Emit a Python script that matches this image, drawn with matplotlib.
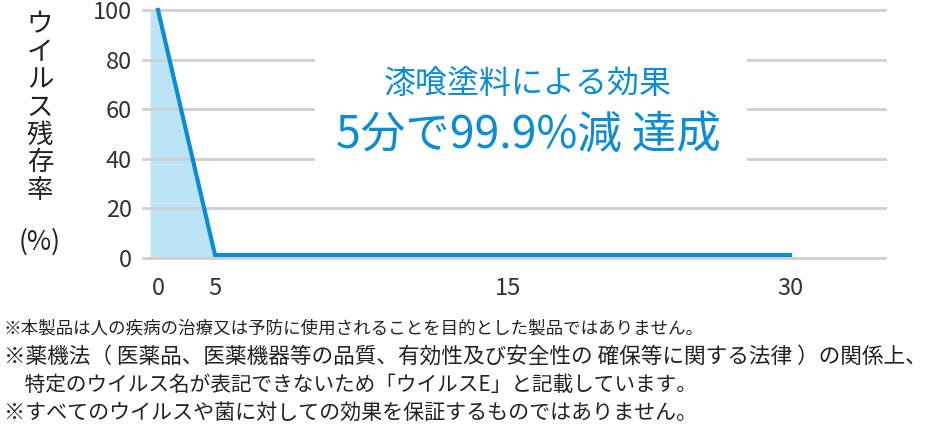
import matplotlib.pyplot as plt
from matplotlib.patches import Rectangle
import numpy as np

plt.rcParams['font.family'] = ['Noto Sans CJK JP', 'DejaVu Sans']

# data
minutes = [0, 5, 15, 30]
survival = [100, 1.2, 1.2, 1.2]
fill_minutes = [-0.7, 0, 5]
fill_survival = [100, 100, 1.2]
yticks = [0, 20, 40, 60, 80, 100]
ylabel_chars = ["ウ", "イ", "ル", "ス", "残", "存", "率"]
title1 = "漆喰塗料による効果"
title2 = "5分で99.9%減 達成"
notes = [
    "※本製品は人の疾病の治療又は予防に使用されることを目的とした製品ではありません。",
    "※薬機法（ 医薬品、医薬機器等の品質、有効性及び安全性の 確保等に関する法律 ）の関係上、",
    "　特定のウイルス名が表記できないため「ウイルスE」と記載しています。",
    "※すべてのウイルスや菌に対しての効果を保証するものではありません。",
]
# right edge of each note line in the reference (pixels)
note_right = [705, 930, 700, 700]

blue = "#0b8dd5"
fill_blue = "#bde3f7"
grid_gray = "#cfcfcf"

# uneven time axis (the original spaces the ticks by hand)
knot_t = np.array([-10, 0, 5, 15, 30, 60])
knot_p = np.array([-114, 0, 57, 350, 632, 1196])


def fwd(x):
    return np.interp(x, knot_t, knot_p)


def inv(p):
    return np.interp(p, knot_p, knot_t)


fig = plt.figure(figsize=(9.39, 4.37), dpi=100)
ax = fig.add_axes([143 / 939, 179 / 437, 742 / 939, 248 / 437])
ax.set_xscale('function', functions=(fwd, inv))
ax.set_xlim(-1.316, 35.05)
ax.set_ylim(0, 100)

ax.fill_between(fill_minutes, fill_survival, 0, color=fill_blue, lw=0, zorder=1)
ax.plot(minutes, survival, color=blue, lw=3, solid_joinstyle='miter', zorder=4, clip_on=False)

for y in yticks:
    ax.axhline(y, color=grid_gray, lw=2, zorder=1.5, clip_on=False)

# white panel behind the message
ax.add_patch(Rectangle((0.232, 0.30), 0.582, 0.55, transform=ax.transAxes,
                       facecolor="white", edgecolor="none", zorder=2))
ax.text(0.519, 0.70, title1, transform=ax.transAxes, ha='center', va='center',
        color=blue, fontsize=23, zorder=5)
ax.text(0.519, 0.497, title2, transform=ax.transAxes, ha='center', va='center',
        color=blue, fontsize=32, zorder=5)

for s in ax.spines.values():
    s.set_visible(False)
ax.set_xticks(minutes)
ax.set_xticklabels([str(m) for m in minutes])
ax.set_yticks(yticks)
ax.tick_params(length=0, labelsize=17, colors="#333333")
ax.tick_params(axis='x', pad=14)
ax.tick_params(axis='y', pad=8)
ax.minorticks_off()

# vertical y label
for i, ch in enumerate(ylabel_chars):
    fig.text(40 / 939, 1 - (25 + i * 27.6) / 437, ch, ha='center', va='center',
             fontsize=19, color="#222222")
fig.text(40 / 939, 1 - 242 / 437, "(%)", ha='center', va='center',
         fontsize=19, color="#222222")

# footnotes, sized so each line ends where it does in the original
renderer = fig.canvas.get_renderer()
for i, line in enumerate(notes):
    t = fig.text(4 / 939, 1 - (328 + i * 28.3) / 437, line, ha='left', va='center',
                 fontsize=15, color="#222222")
    w = t.get_window_extent(renderer).width
    t.set_fontsize(min(16.5, 15 * (note_right[i] - 4) / w))

fig.savefig("out.png", dpi=100)
